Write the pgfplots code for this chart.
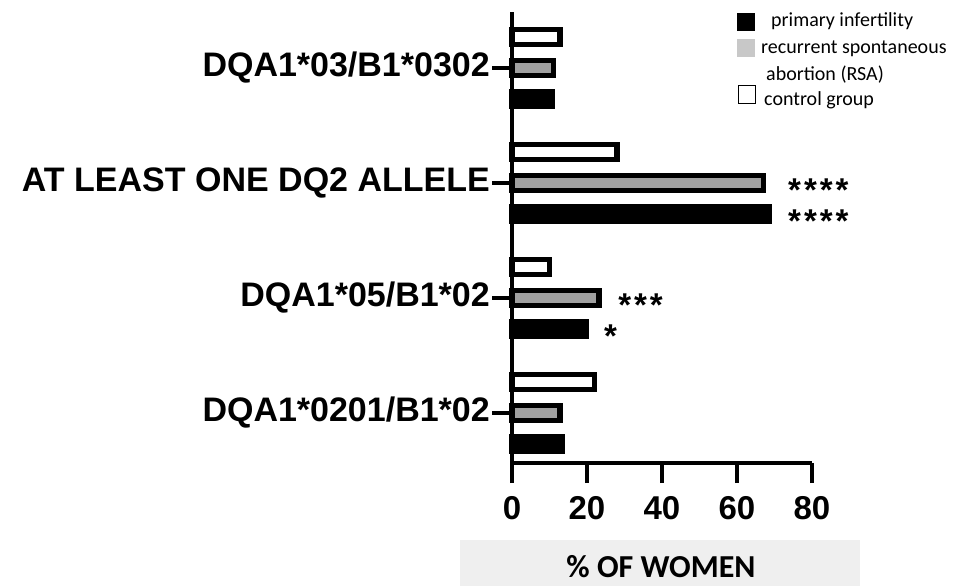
\documentclass[border=0pt]{standalone}
\usepackage{pgfplots}
\pgfplotsset{compat=1.18}
\usepackage{fontspec}
\setmainfont{Liberation Sans}
\newfontfamily\calfont{Carlito}
\definecolor{rsa}{RGB}{160,160,160}
\definecolor{rsaleg}{RGB}{200,200,200}
\definecolor{boxgray}{RGB}{239,239,239}
\begin{document}
\begin{tikzpicture}[x=1pt,y=1pt]
\fill[boxgray] (460,0) rectangle (860,46);
\node[font=\calfont\bfseries\fontsize{32}{36}\selectfont] at (661,19) {\% OF WOMEN};
% legend
\fill[black] (737,555) rectangle (755,573);
\fill[rsaleg] (737,529) rectangle (755,547);
\draw[line width=1pt] (738.5,482) rectangle (755.5,500);
\begin{scope}[every node/.style={anchor=base west, inner sep=0pt, font=\calfont\fontsize{20}{22}\selectfont}]
\node at (771,559) {primary infertility};
\node at (761,532) {recurrent spontaneous};
\node at (766,505) {abortion (RSA)};
\node at (764,480) {control group};
\end{scope}
\begin{axis}[at={(512pt,123pt)}, anchor=south west, scale only axis,
  width=300pt, height=451pt,
  xmin=0, xmax=80, ymin=-0.435, ymax=3.487,
  xtick={0,20,40,60,80}, ytick={0,1,2,3},
  yticklabels={DQA1*0201/B1*02, DQA1*05/B1*02, AT LEAST ONE DQ2 ALLELE, DQA1*03/B1*0302},
  axis x line=bottom, axis y line=left,
  axis line style={-, line width=4pt},
  tick style={line width=4pt, black}, tick align=outside, major tick length=20pt,
  /pgf/number format/assume math mode=true,
  xticklabel style={font=\bfseries\fontsize{33}{33}\selectfont, inner sep=1pt, yshift=-12pt},
  yticklabel style={font=\bfseries\fontsize{34}{34}\selectfont, inner sep=2pt},
  xbar, bar width=15pt, clip=false,
]
\addplot[draw=black, fill=white, line width=5.5pt, bar shift=31pt] coordinates {(22,0) (10,1) (28,2) (12.8,3)};
\addplot[draw=black, fill=rsa, line width=5.5pt, bar shift=0pt] coordinates {(12.8,0) (23.2,1) (67,2) (11,3)};
\addplot[draw=black, fill=black, line width=5.5pt, bar shift=-31pt] coordinates {(13.3,0) (19.8,1) (68.6,2) (10.7,3)};
\begin{scope}[every node/.style={anchor=base west, inner sep=0pt, font=\bfseries\fontsize{33}{33}\selectfont}]
\node[yshift=-19pt] at (axis cs:73.6,2) {*\hspace{3pt}*\hspace{3pt}*\hspace{3pt}*};
\node[yshift=-50pt] at (axis cs:73.6,2) {*\hspace{3pt}*\hspace{3pt}*\hspace{3pt}*};
\node[yshift=-19pt] at (axis cs:28.3,1) {*\hspace{3pt}*\hspace{3pt}*};
\node[yshift=-50pt] at (axis cs:24.5,1) {*};
\end{scope}
\end{axis}
\pgfresetboundingbox
\useasboundingbox (0,0) rectangle (955,586);
\end{tikzpicture}
\end{document}
